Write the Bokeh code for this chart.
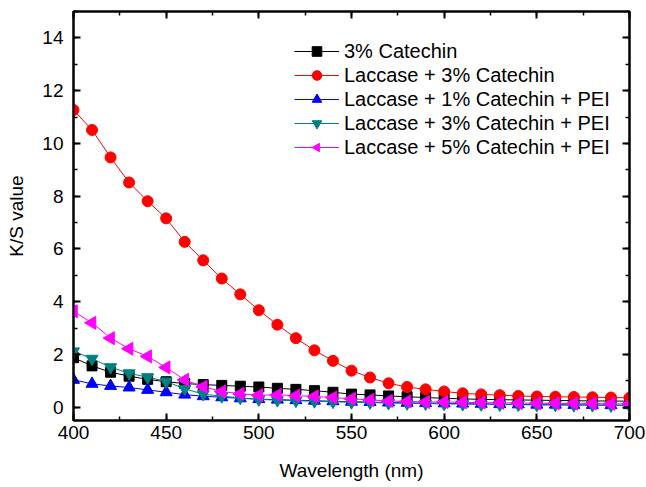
from bokeh.plotting import figure
from bokeh.models import LinearAxis, Range1d, Legend, LegendItem, CustomJSTickFormatter, SingleIntervalTicker, ColumnDataSource
from bokeh.embed import file_html
from bokeh.resources import INLINE
import math

wavelength = list(range(400, 701, 10))

catechin_3 = [1.88, 1.57, 1.33, 1.18, 1.06, 0.97, 0.90, 0.86, 0.83, 0.80, 0.77,
              0.72, 0.68, 0.63, 0.57, 0.50, 0.47, 0.43, 0.40, 0.37, 0.34,
              0.32, 0.30, 0.29, 0.28, 0.27, 0.26, 0.25, 0.24, 0.24, 0.23]
laccase_3 = [11.27, 10.51, 9.47, 8.52, 7.81, 7.16, 6.27, 5.57, 4.88, 4.28, 3.68,
             3.13, 2.62, 2.16, 1.76, 1.39, 1.13, 0.91, 0.77, 0.68, 0.60,
             0.53, 0.49, 0.46, 0.43, 0.41, 0.40, 0.39, 0.38, 0.37, 0.36]
laccase_1_pei = [1.04, 0.89, 0.81, 0.75, 0.66, 0.57, 0.48, 0.42, 0.38, 0.34, 0.31,
                 0.29, 0.27, 0.25, 0.23, 0.21, 0.20, 0.18, 0.17, 0.16, 0.15,
                 0.14, 0.13, 0.12, 0.11, 0.10, 0.10, 0.09, 0.09, 0.08, 0.08]
laccase_3_pei = [2.12, 1.84, 1.52, 1.29, 1.14, 0.98, 0.70, 0.50, 0.42, 0.36, 0.30,
                 0.27, 0.25, 0.23, 0.21, 0.19, 0.18, 0.16, 0.15, 0.14, 0.13,
                 0.12, 0.11, 0.10, 0.10, 0.09, 0.09, 0.08, 0.08, 0.07, 0.07]
laccase_5_pei = [3.64, 3.20, 2.62, 2.22, 1.93, 1.51, 1.04, 0.78, 0.60, 0.51, 0.46,
                 0.47, 0.44, 0.41, 0.37, 0.32, 0.28, 0.24, 0.22, 0.20, 0.20,
                 0.19, 0.18, 0.17, 0.16, 0.15, 0.15, 0.14, 0.14, 0.13, 0.13]

labels = ["3% Catechin", "Laccase + 3% Catechin", "Laccase + 1% Catechin + PEI",
          "Laccase + 3% Catechin + PEI", "Laccase + 5% Catechin + PEI"]
series = [catechin_3, laccase_3, laccase_1_pei, laccase_3_pei, laccase_5_pei]
colors = ["#000000", "#FF0000", "#0000FF", "#008080", "#FF00FF"]
markers = ["square", "circle", "triangle", "inverted_triangle", "left_triangle"]
sizes = [10, 11, 12, 12, 12]

FONT = "Liberation Sans"

p = figure(width=646, height=487, output_backend="svg", toolbar_location=None,
           x_range=Range1d(400, 700), y_range=Range1d(-0.5, 15.0),
           min_border_left=73, min_border_right=17, min_border_top=11, min_border_bottom=67)
p.background_fill_color = "white"
p.border_fill_color = "white"
p.outline_line_color = "black"
p.outline_line_width = 2
p.grid.visible = False

items = []
for lab, ys, c, m, s in zip(labels, series, colors, markers, sizes):
    src = ColumnDataSource(dict(x=wavelength, y=ys))
    r1 = p.line("x", "y", source=src, line_color=c, line_width=1)
    if m == "left_triangle":
        r2 = p.ngon("x", "y", source=src, radius=7.5, radius_units="screen", n=3,
                    angle=math.pi / 2, fill_color=c, line_color=c)
    else:
        r2 = p.scatter("x", "y", source=src, marker=m, size=s, fill_color=c, line_color=c)
    items.append(LegendItem(label=lab, renderers=[r1, r2]))

legend = Legend(items=items, location=(221, 261), padding=0, margin=0,
                border_line_color=None, background_fill_alpha=0,
                glyph_width=45, glyph_height=24, label_height=24, spacing=0,
                label_standoff=5, label_text_font=FONT, label_text_font_size="20px",
                label_text_color="black")
p.add_layout(legend, "center")

def style(ax):
    ax.axis_line_width = 2
    ax.axis_line_color = "black"
    ax.major_tick_in = 7
    ax.major_tick_out = 0
    ax.minor_tick_in = 4
    ax.minor_tick_out = 0
    ax.major_tick_line_width = 2
    ax.minor_tick_line_width = 1.5
    ax.major_tick_line_color = "black"
    ax.minor_tick_line_color = "black"
    ax.major_label_text_font = FONT
    ax.major_label_text_font_size = "19px"
    ax.major_label_text_color = "black"
    ax.axis_label_text_font = FONT
    ax.axis_label_text_font_size = "19px"
    ax.axis_label_text_font_style = "normal"
    ax.axis_label_text_color = "black"

xa = p.xaxis[0]
ya = p.yaxis[0]
style(xa)
style(ya)
xa.ticker = SingleIntervalTicker(interval=50, num_minor_ticks=2)
ya.ticker = SingleIntervalTicker(interval=2, num_minor_ticks=2)
ya.axis_label = "K/S value"
xa.axis_label = "Wavelength (nm)"
xa.major_label_standoff = 5
xa.axis_label_standoff = 18
ya.major_label_standoff = 10
ya.axis_label_standoff = 12

blank = CustomJSTickFormatter(code="return ''")
ra = LinearAxis(ticker=SingleIntervalTicker(interval=2, num_minor_ticks=2), formatter=blank)
ta = LinearAxis(ticker=SingleIntervalTicker(interval=50, num_minor_ticks=2), formatter=blank)
for ax in (ra, ta):
    style(ax)
    ax.major_label_standoff = 0
    ax.major_label_text_font_size = "0px"
p.add_layout(ra, "right")
p.add_layout(ta, "above")

open("out.html", "w").write(file_html(p, INLINE))
